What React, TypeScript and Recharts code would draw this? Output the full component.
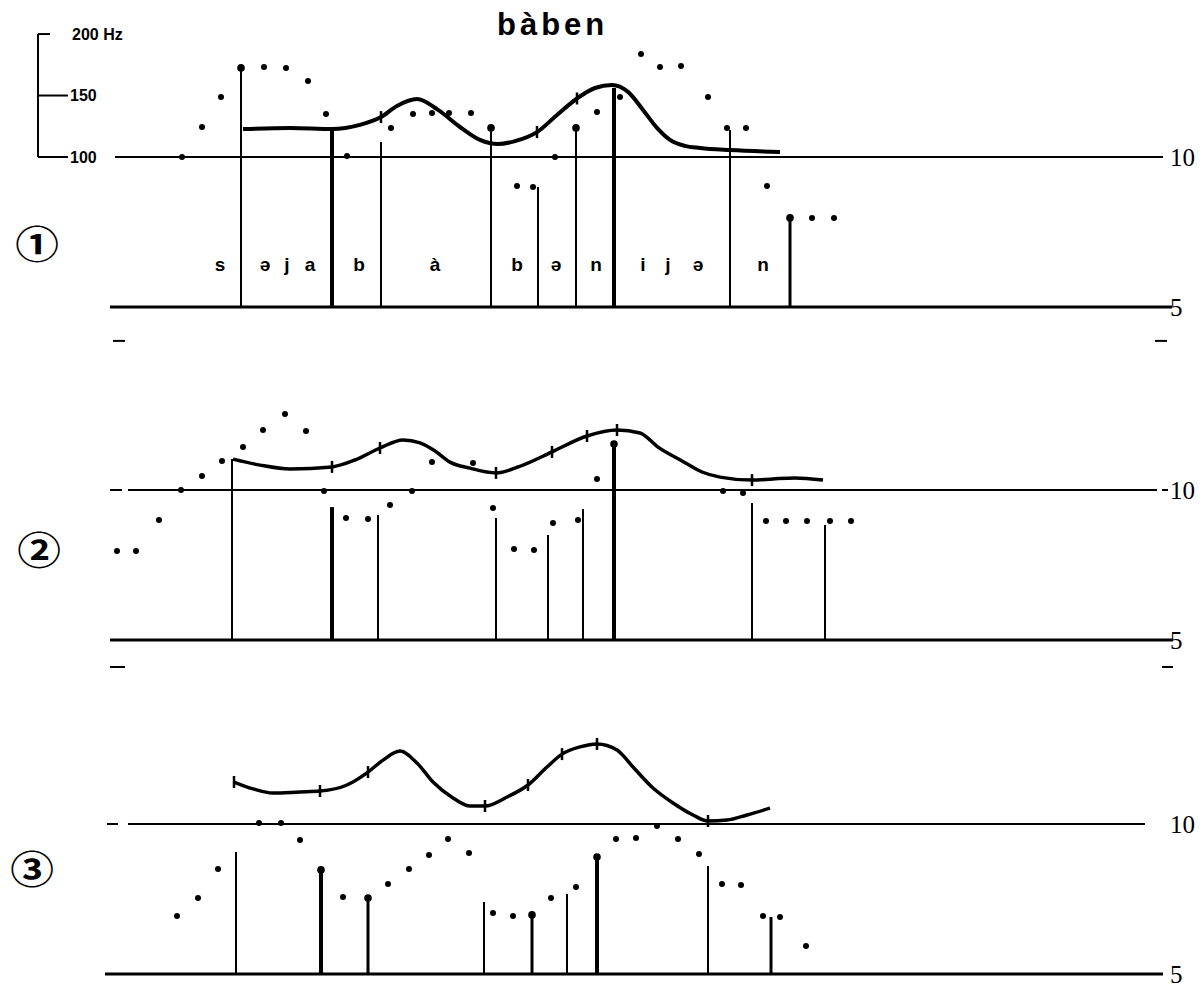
import React from 'react';
import { ComposedChart, Line, Scatter, XAxis, YAxis, ReferenceLine } from 'recharts';

type Pt = { t: number; v: number };
type Stem = { t: number; top: number; kind: 'major' | 'mid' | 'minor'; dot?: boolean };
type Phone = { t: number; v: number; ph: string };
type Span = [number, number];

// shared scales: time in cs, level in the panel's own units (5 = base, 10 = reference)
const timeDomain: [number, number] = [0, 112.4];
const levelTicks = [5, 10];
const hzTicks = [100, 150, 200];
const hzTickLabels = ['100', '150', '200 Hz'];
const hzPerLevel = 24.4;

// ---------- panel 1 ----------
const p1Curve: Pt[] = [
  { t: 20.5, v: 10.93 }, { t: 25.2, v: 10.97 }, { t: 29.4, v: 10.93 }, { t: 32.2, v: 11.07 },
  { t: 34.3, v: 11.33 }, { t: 35.9, v: 11.7 }, { t: 37.9, v: 11.93 }, { t: 40.0, v: 11.57 },
  { t: 42.2, v: 11.0 }, { t: 44.2, v: 10.57 }, { t: 46.0, v: 10.43 }, { t: 47.7, v: 10.53 },
  { t: 49.9, v: 10.83 }, { t: 51.9, v: 11.4 }, { t: 53.9, v: 11.95 }, { t: 55.7, v: 12.3 },
  { t: 57.4, v: 12.4 }, { t: 59.0, v: 12.17 }, { t: 60.5, v: 11.57 }, { t: 61.9, v: 10.97 },
  { t: 63.2, v: 10.57 }, { t: 64.7, v: 10.37 }, { t: 66.2, v: 10.3 }, { t: 69.2, v: 10.23 },
  { t: 74.2, v: 10.17 },
];
const p1CurveTicks: Pt[] = [{ t: 34.3, v: 11.33 }, { t: 49.9, v: 10.83 }, { t: 53.9, v: 11.95 }];
const p1Dots: Pt[] = [
  { t: 14.4, v: 10.0 }, { t: 16.4, v: 11.0 }, { t: 18.3, v: 12.0 }, { t: 22.6, v: 13.0 },
  { t: 24.8, v: 12.97 }, { t: 27.0, v: 12.53 }, { t: 28.8, v: 11.43 }, { t: 30.9, v: 10.03 },
  { t: 35.3, v: 10.97 }, { t: 37.5, v: 11.43 }, { t: 39.4, v: 11.47 }, { t: 41.1, v: 11.47 },
  { t: 43.3, v: 11.47 }, { t: 47.9, v: 9.03 }, { t: 49.5, v: 9.0 }, { t: 51.7, v: 10.0 },
  { t: 55.9, v: 11.5 }, { t: 58.2, v: 12.0 }, { t: 60.3, v: 13.43 }, { t: 62.2, v: 13.0 },
  { t: 64.3, v: 13.03 }, { t: 67.0, v: 12.0 }, { t: 68.9, v: 10.97 }, { t: 70.8, v: 10.97 },
  { t: 72.9, v: 9.03 }, { t: 77.4, v: 7.97 }, { t: 79.6, v: 7.97 },
];
const p1Stems: Stem[] = [
  { t: 20.3, top: 12.97, kind: 'minor', dot: true },
  { t: 29.4, top: 10.93, kind: 'major' },
  { t: 34.3, top: 10.5, kind: 'minor' },
  { t: 45.3, top: 10.97, kind: 'minor', dot: true },
  { t: 50.0, top: 9.0, kind: 'minor' },
  { t: 53.8, top: 10.97, kind: 'minor', dot: true },
  { t: 57.6, top: 12.3, kind: 'major' },
  { t: 69.2, top: 10.9, kind: 'minor' },
  { t: 75.2, top: 7.97, kind: 'mid', dot: true },
];
const p1Phones: Phone[] = [
  { t: 18.2, v: 6.2, ph: 's' }, { t: 22.7, v: 6.2, ph: 'ə' }, { t: 24.9, v: 6.2, ph: 'j' },
  { t: 27.2, v: 6.2, ph: 'a' }, { t: 32.1, v: 6.2, ph: 'b' }, { t: 39.7, v: 6.2, ph: 'à' },
  { t: 47.9, v: 6.2, ph: 'b' }, { t: 51.8, v: 6.2, ph: 'ə' }, { t: 55.8, v: 6.2, ph: 'n' },
  { t: 60.5, v: 6.2, ph: 'i' }, { t: 63.0, v: 6.2, ph: 'j' }, { t: 66.0, v: 6.2, ph: 'ə' },
  { t: 72.5, v: 6.2, ph: 'n' },
];
const p1TenLine: Span[] = [[7.7, 112.5]];
const p1Base: Span = [7.2, 113.4];
const p1Marks: Span[] = [[7.5, 8.7], [111.7, 112.9]];

// ---------- panel 2 ----------
const p2Curve: Pt[] = [
  { t: 19.5, v: 11.03 }, { t: 22.2, v: 10.83 }, { t: 25.2, v: 10.7 }, { t: 29.4, v: 10.77 },
  { t: 31.7, v: 11.0 }, { t: 34.2, v: 11.4 }, { t: 36.5, v: 11.67 }, { t: 38.2, v: 11.57 },
  { t: 39.7, v: 11.3 }, { t: 41.2, v: 10.93 }, { t: 43.2, v: 10.73 }, { t: 45.8, v: 10.57 },
  { t: 48.5, v: 10.83 }, { t: 51.4, v: 11.27 }, { t: 54.9, v: 11.8 }, { t: 57.9, v: 12.0 },
  { t: 60.2, v: 11.9 }, { t: 62.0, v: 11.43 }, { t: 64.4, v: 10.97 }, { t: 66.4, v: 10.6 },
  { t: 68.2, v: 10.43 }, { t: 71.4, v: 10.33 }, { t: 73.5, v: 10.37 }, { t: 75.7, v: 10.4 },
  { t: 78.5, v: 10.33 },
];
const p2CurveTicks: Pt[] = [
  { t: 29.4, v: 10.77 }, { t: 34.2, v: 11.4 }, { t: 45.8, v: 10.57 }, { t: 51.4, v: 11.27 },
  { t: 54.9, v: 11.8 }, { t: 57.9, v: 12.0 }, { t: 71.4, v: 10.33 },
];
const p2Dots: Pt[] = [
  { t: 7.9, v: 7.97 }, { t: 9.8, v: 7.97 }, { t: 12.1, v: 9.0 }, { t: 14.3, v: 10.0 },
  { t: 16.4, v: 10.47 }, { t: 18.4, v: 10.97 }, { t: 20.5, v: 11.43 }, { t: 22.5, v: 12.0 },
  { t: 24.7, v: 12.53 }, { t: 26.8, v: 11.97 }, { t: 28.6, v: 9.97 }, { t: 30.8, v: 9.07 },
  { t: 33.0, v: 9.03 }, { t: 35.2, v: 9.5 }, { t: 37.4, v: 9.97 }, { t: 39.4, v: 10.93 },
  { t: 43.5, v: 10.9 }, { t: 45.5, v: 9.4 }, { t: 47.6, v: 8.03 }, { t: 49.6, v: 8.0 },
  { t: 51.5, v: 8.9 }, { t: 54.0, v: 9.0 }, { t: 55.9, v: 10.37 }, { t: 68.5, v: 9.97 },
  { t: 70.5, v: 9.9 }, { t: 72.8, v: 8.97 }, { t: 74.8, v: 8.97 }, { t: 76.9, v: 8.97 },
  { t: 79.2, v: 8.97 }, { t: 81.3, v: 8.97 },
];
const p2Stems: Stem[] = [
  { t: 19.4, top: 11.03, kind: 'minor' },
  { t: 29.4, top: 9.43, kind: 'major' },
  { t: 34.0, top: 9.17, kind: 'minor' },
  { t: 45.8, top: 9.07, kind: 'minor' },
  { t: 51.0, top: 8.5, kind: 'minor' },
  { t: 54.5, top: 9.37, kind: 'minor' },
  { t: 57.6, top: 11.53, kind: 'major', dot: true },
  { t: 71.4, top: 9.57, kind: 'minor' },
  { t: 78.7, top: 8.83, kind: 'minor' },
];
const p2TenLine: Span[] = [[7.2, 8.4], [9.0, 111.9]];
const p2Base: Span = [7.2, 113.5];
const p2Marks: Span[] = [[7.2, 8.7], [112.4, 113.5]];

// ---------- panel 3 ----------
const p3Curve: Pt[] = [
  { t: 19.6, v: 11.4 }, { t: 21.5, v: 11.17 }, { t: 23.5, v: 11.03 }, { t: 26.2, v: 11.07 },
  { t: 28.2, v: 11.1 }, { t: 30.9, v: 11.3 }, { t: 33.0, v: 11.73 }, { t: 34.5, v: 12.13 },
  { t: 36.2, v: 12.43 }, { t: 37.9, v: 12.03 }, { t: 39.5, v: 11.4 }, { t: 41.5, v: 10.87 },
  { t: 43.2, v: 10.6 }, { t: 44.7, v: 10.6 }, { t: 46.9, v: 10.9 }, { t: 49.0, v: 11.3 },
  { t: 50.9, v: 11.9 }, { t: 52.4, v: 12.33 }, { t: 54.2, v: 12.57 }, { t: 55.9, v: 12.67 },
  { t: 57.9, v: 12.47 }, { t: 59.5, v: 11.9 }, { t: 61.5, v: 11.2 }, { t: 63.5, v: 10.7 },
  { t: 65.5, v: 10.3 }, { t: 67.0, v: 10.1 }, { t: 68.9, v: 10.13 }, { t: 70.9, v: 10.3 },
  { t: 73.2, v: 10.53 },
];
const p3CurveTicks: Pt[] = [
  { t: 19.6, v: 11.4 }, { t: 28.2, v: 11.1 }, { t: 33.0, v: 11.73 }, { t: 44.7, v: 10.6 },
  { t: 49.0, v: 11.3 }, { t: 52.4, v: 12.33 }, { t: 55.9, v: 12.67 }, { t: 67.0, v: 10.1 },
];
const p3Dots: Pt[] = [
  { t: 13.9, v: 6.93 }, { t: 16.0, v: 7.53 }, { t: 18.0, v: 8.5 }, { t: 22.1, v: 10.03 },
  { t: 24.3, v: 10.03 }, { t: 26.2, v: 9.47 }, { t: 30.5, v: 7.57 }, { t: 35.0, v: 8.0 },
  { t: 37.1, v: 8.5 }, { t: 39.1, v: 8.97 }, { t: 41.0, v: 9.5 }, { t: 43.1, v: 9.03 },
  { t: 45.5, v: 7.03 }, { t: 47.5, v: 6.93 }, { t: 51.3, v: 7.53 }, { t: 53.8, v: 7.9 },
  { t: 57.8, v: 9.5 }, { t: 59.8, v: 9.53 }, { t: 61.9, v: 9.93 }, { t: 64.0, v: 9.5 },
  { t: 66.1, v: 9.0 }, { t: 68.4, v: 8.0 }, { t: 70.3, v: 7.97 }, { t: 72.5, v: 6.93 },
  { t: 74.2, v: 6.9 }, { t: 76.8, v: 5.93 },
];
const p3Stems: Stem[] = [
  { t: 19.8, top: 9.07, kind: 'minor' },
  { t: 28.3, top: 8.47, kind: 'major', dot: true },
  { t: 33.0, top: 7.53, kind: 'mid', dot: true },
  { t: 44.6, top: 7.4, kind: 'minor' },
  { t: 49.4, top: 6.97, kind: 'mid', dot: true },
  { t: 52.9, top: 7.67, kind: 'minor' },
  { t: 55.9, top: 8.9, kind: 'major', dot: true },
  { t: 67.0, top: 8.6, kind: 'minor' },
  { t: 73.3, top: 6.9, kind: 'mid' },
];
const p3TenLine: Span[] = [[6.9, 8.0], [9.0, 110.7]];
const p3Base: Span = [6.7, 112.5];

const stemWidth = { major: 4, mid: 3, minor: 2 };
const sans = '"Liberation Sans", Arial, "DejaVu Sans", sans-serif';
const serif = '"Liberation Serif", "Times New Roman", serif';

const dotShape = (r: number) => (p: any) => <circle cx={p.cx} cy={p.cy} r={r} fill="#000" />;
const tickShape = (p: any) => (
  <line x1={p.cx} x2={p.cx} y1={p.cy - 6} y2={p.cy + 6} stroke="#000" strokeWidth={2.5} />
);
const phoneShape = (p: any) => (
  <text x={p.cx} y={p.cy} textAnchor="middle" fontSize={19} fontWeight={600} fontFamily={sans} fill="#000">
    {p.payload.ph}
  </text>
);

type PanelProps = {
  top: number;
  domain: [number, number];
  curve: Pt[];
  curveTicks: Pt[];
  dots: Pt[];
  stems: Stem[];
  tenLine: Span[];
  base: Span;
  marks?: Span[];
  markLevel?: number;
  phones?: Phone[];
  hz?: boolean;
  tickLine?: boolean;
};

const Panel: React.FC<PanelProps> = ({
  top, domain, curve, curveTicks, dots, stems, tenLine, base, marks = [], markLevel = 4, phones, hz, tickLine,
}) => {
  const height = (domain[1] - domain[0]) * 30;
  const hzDomain: [number, number] = [100 + (domain[0] - 10) * hzPerLevel, 100 + (domain[1] - 10) * hzPerLevel];
  const stemTops = stems.filter((s) => s.dot).map((s) => ({ t: s.t, v: s.top }));
  return (
    <div style={{ position: 'absolute', left: 0, top }}>
      <ComposedChart width={1202} height={height} margin={{ top: 0, right: 0, bottom: 0, left: 38 }}>
        <XAxis type="number" dataKey="t" domain={timeDomain} allowDataOverflow hide />
        <YAxis
          yAxisId="v"
          dataKey="v"
          type="number"
          orientation="right"
          domain={domain}
          allowDataOverflow
          ticks={levelTicks}
          interval={0}
          width={40}
          axisLine={false}
          tickLine={tickLine ? { stroke: '#000', strokeWidth: 2 } : false}
          tick={{ fill: '#000', fontSize: 25, fontFamily: serif }}
        />
        {hz && <YAxis yAxisId="hz" type="number" domain={hzDomain} allowDataOverflow hide />}
        {hz && (
          <ReferenceLine
            yAxisId="hz"
            segment={[{ x: 0, y: 100 }, { x: 0, y: 200 }]}
            stroke="#000"
            strokeWidth={2}
            ifOverflow="visible"
          />
        )}
        {hz &&
          hzTicks.map((h, i) => (
            <ReferenceLine
              key={`hz${h}`}
              yAxisId="hz"
              segment={[{ x: 0, y: h }, { x: i === 2 ? 1.2 : 3.0, y: h }]}
              stroke="#000"
              strokeWidth={2}
              ifOverflow="visible"
              label={{
                value: hzTickLabels[i],
                position: 'right',
                offset: i === 2 ? 22 : 2,
                fill: '#000',
                fontSize: 16,
                fontWeight: 700,
                fontFamily: sans,
              }}
            />
          ))}
        {tenLine.map(([a, b], i) => (
          <ReferenceLine key={`ten${i}`} yAxisId="v" segment={[{ x: a, y: 10 }, { x: b, y: 10 }]}
            stroke="#000" strokeWidth={2} ifOverflow="visible" />
        ))}
        <ReferenceLine yAxisId="v" segment={[{ x: base[0], y: 5 }, { x: base[1], y: 5 }]}
          stroke="#000" strokeWidth={3} ifOverflow="visible" />
        {marks.map(([a, b], i) => (
          <ReferenceLine key={`mk${i}`} yAxisId="v" segment={[{ x: a, y: markLevel }, { x: b, y: markLevel }]}
            stroke="#000" strokeWidth={2} ifOverflow="visible" />
        ))}
        {stems.map((s, i) => (
          <ReferenceLine key={`st${i}`} yAxisId="v" segment={[{ x: s.t, y: 5 }, { x: s.t, y: s.top }]}
            stroke="#000" strokeWidth={stemWidth[s.kind]} ifOverflow="visible" />
        ))}
        <Line
          yAxisId="v"
          data={curve}
          dataKey="v"
          type="monotone"
          stroke="#000"
          strokeWidth={hz ? 4 : 3.5}
          dot={false}
          activeDot={false}
          isAnimationActive={false}
        />
        <Scatter yAxisId="v" data={curveTicks} shape={tickShape} isAnimationActive={false} />
        <Scatter yAxisId="v" data={dots} shape={dotShape(3)} isAnimationActive={false} />
        <Scatter yAxisId="v" data={stemTops} shape={dotShape(3.8)} isAnimationActive={false} />
        {phones && <Scatter yAxisId="v" data={phones} shape={phoneShape} isAnimationActive={false} />}
      </ComposedChart>
    </div>
  );
};

const circled: React.CSSProperties = {
  position: 'absolute',
  fontFamily: '"Noto Sans CJK JP", "DejaVu Sans", sans-serif',
  fontSize: 38,
  fontWeight: 700,
  lineHeight: '38px',
  width: 44,
  textAlign: 'center',
  transform: 'scaleX(1.15)',
  color: '#000',
};

export default function App() {
  return (
    <div style={{ position: 'fixed', left: 0, top: 0, width: 1202, height: 993, background: '#fff', overflow: 'hidden' }}>
      <div style={{ position: 'absolute', left: 497, top: 9, fontFamily: sans, fontSize: 31, fontWeight: 700, letterSpacing: 4, lineHeight: '31px', color: '#000' }}>
        bàben
      </div>
      <div style={{ ...circled, left: 15, top: 223 }}>①</div>
      <div style={{ ...circled, left: 17, top: 529 }}>②</div>
      <div style={{ ...circled, left: 10, top: 848 }}>③</div>
      <Panel top={7} domain={[3.5, 15]} curve={p1Curve} curveTicks={p1CurveTicks} dots={p1Dots} stems={p1Stems}
        tenLine={p1TenLine} base={p1Base} marks={p1Marks} markLevel={3.87} phones={p1Phones} hz />
      <Panel top={385} domain={[3.5, 13.5]} curve={p2Curve} curveTicks={p2CurveTicks} dots={p2Dots} stems={p2Stems}
        tenLine={p2TenLine} base={p2Base} marks={p2Marks} markLevel={4.1} tickLine />
      <Panel top={719} domain={[4.5, 13.5]} curve={p3Curve} curveTicks={p3CurveTicks} dots={p3Dots} stems={p3Stems}
        tenLine={p3TenLine} base={p3Base} />
    </div>
  );
}
